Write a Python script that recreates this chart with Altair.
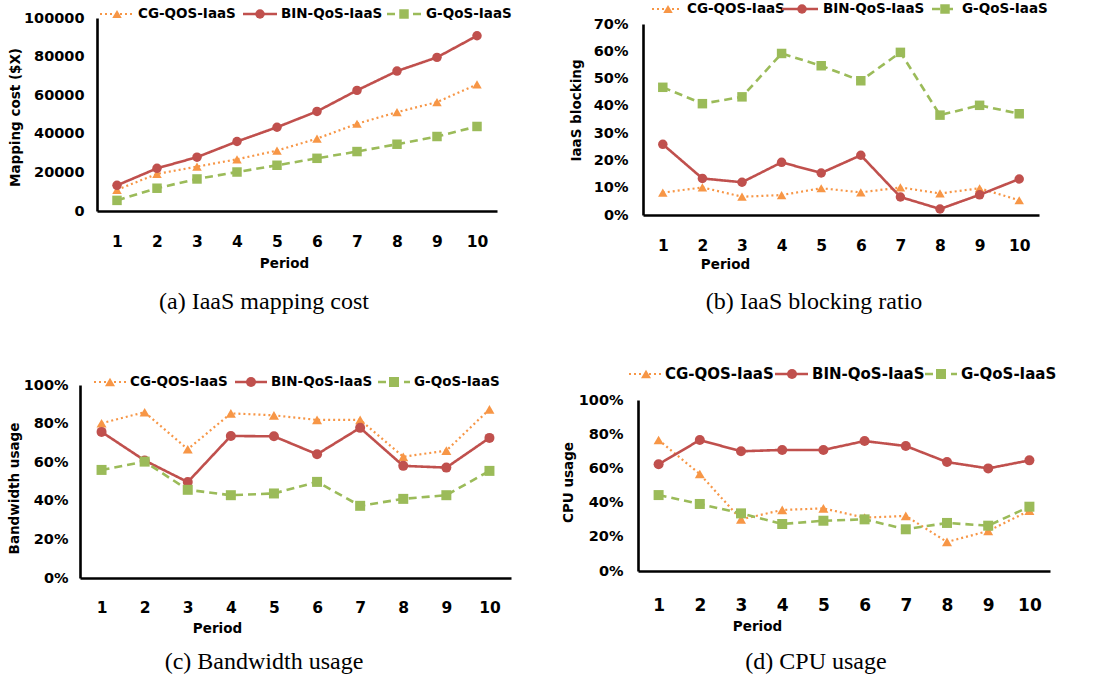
import altair as alt
import pandas as pd

periods = [1, 2, 3, 4, 5, 6, 7, 8, 9, 10]
series = ["CG-QOS-IaaS", "BIN-QoS-IaaS", "G-QoS-IaaS"]
colors = ["#F79646", "#C0504D", "#9BBB59"]
shapes = ["triangle-up", "circle", "square"]
dashes = [[2, 3], [1, 0], [8, 5]]
line_widths = [2.2, 2.6, 2.6]

# (a) IaaS mapping cost
cost_cg = [11000, 19200, 23000, 26800, 31300, 37500, 45200, 51200, 56400, 65600]
cost_bin = [13300, 22100, 27900, 36000, 43400, 51600, 62500, 72500, 79600, 90800]
cost_g = [5500, 11800, 16600, 20200, 23700, 27300, 30800, 34600, 38600, 43800]
cost_ticks = [0, 20000, 40000, 60000, 80000, 100000]

# (b) IaaS blocking ratio (%)
block_cg = [8.2, 10.1, 6.7, 7.3, 9.8, 8.3, 10.1, 7.9, 9.8, 5.4]
block_bin = [25.9, 13.4, 12.0, 19.3, 15.4, 21.9, 6.6, 2.2, 7.4, 13.2]
block_g = [46.8, 40.8, 43.3, 59.2, 54.7, 49.2, 59.6, 36.6, 40.2, 37.1]
block_ticks = [0, 10, 20, 30, 40, 50, 60, 70]

# (c) Bandwidth usage (%)
bw_cg = [80.2, 85.9, 66.7, 85.3, 84.3, 81.9, 81.9, 62.8, 66.0, 87.4]
bw_bin = [75.7, 60.9, 49.7, 73.6, 73.4, 64.1, 77.8, 58.1, 57.2, 72.6]
bw_g = [56.0, 60.3, 45.7, 42.9, 43.8, 49.8, 37.4, 41.0, 42.9, 55.5]

# (d) CPU usage (%)
cpu_cg = [76.6, 56.7, 30.2, 35.7, 36.6, 31.2, 32.2, 17.0, 23.4, 35.3]
cpu_bin = [62.4, 76.6, 70.0, 70.8, 70.8, 76.0, 73.1, 63.7, 60.0, 64.7]
cpu_g = [44.4, 39.2, 33.7, 27.5, 29.4, 30.2, 24.4, 28.1, 26.5, 37.6]
pct_ticks = [0, 20, 40, 60, 80, 100]

captions = ["(a) IaaS mapping cost", "(b) IaaS blocking ratio",
            "(c) Bandwidth usage", "(d) CPU usage"]
y_titles = ["Mapping cost ($X)", "IaaS blocking", "Bandwidth usage", "CPU usage"]

FONT = "DejaVu Sans"
SERIF = "Liberation Serif"
W, H = 548, 341


def panel(values, ticks, ymax, ytitle, caption, pct, L):
    rows = []
    for s, vals in zip(series, values):
        for p, v in zip(periods, vals):
            rows.append({"series": s, "period": p, "value": v})
    df = pd.DataFrame(rows)

    x_enc = alt.X(
        "period:Q",
        scale=alt.Scale(domain=[0.5, 10.5], range=[L["x0"], L["x1"]], nice=False, zero=False),
        axis=alt.Axis(
            values=periods, format="d", ticks=False, tickSize=0, grid=False,
            domainColor="black", domainWidth=2.6, labelFlush=False, labelOverlap=False,
            labelFont=FONT, labelFontWeight="bold", labelFontSize=L["xfs"], labelColor="black",
            labelBaseline="middle", labelPadding=L["xlp"],
            title="Period", titleFont=FONT, titleFontWeight="bold", titleFontSize=13.5,
            titleColor="black", titleX=L["txx"], titleY=L["txy"], titleAlign="center",
            titleBaseline="middle", offset=L["yb"] - H,
        ),
    )
    yaxis = dict(
        values=ticks, ticks=False, tickSize=0, grid=False, domainColor="black",
        domainWidth=2.6, labelFlush=False, labelOverlap=False, labelFont=FONT,
        labelFontWeight="bold", labelFontSize=L["yfs"], labelColor="black",
        labelPadding=L["ylp"], title=ytitle, titleFont=FONT, titleFontWeight="bold",
        titleFontSize=13.5, titleColor="black", titleAngle=270, titleX=L["tyx"],
        titleY=L["tyy"], titleAlign="center", titleBaseline="middle", offset=-L["ax"],
    )
    if pct:
        yaxis["labelExpr"] = "datum.value + '%'"
    else:
        yaxis["format"] = "d"
    y_enc = alt.Y(
        "value:Q",
        scale=alt.Scale(domain=[0, ymax], range=[L["yb"], L["yt"]], nice=False, zero=True),
        axis=alt.Axis(**yaxis),
    )

    layers = []
    for s, c, sh, d, lw in zip(series, colors, shapes, dashes, line_widths):
        base = alt.Chart(df).transform_filter(alt.datum.series == s)
        layers.append(base.mark_line(color=c, strokeDash=d, strokeWidth=lw).encode(x=x_enc, y=y_enc))
        layers.append(base.mark_point(shape=sh, filled=True, color=c, opacity=1,
                                      size=L["ms"]).encode(x=x_enc, y=y_enc))

    # legend
    for i, (s, c, sh, d, lw) in enumerate(zip(series, colors, shapes, dashes, line_widths)):
        ld = pd.DataFrame({"name": [s]})
        lx0, lx1, lm, lt = L["leg"][i]
        ly = L["ly"]
        layers.append(alt.Chart(ld).mark_rule(color=c, strokeDash=d, strokeWidth=lw).encode(
            x=alt.value(lx0), x2=alt.value(lx1), y=alt.value(ly)))
        layers.append(alt.Chart(ld).mark_point(shape=sh, filled=True, color=c, opacity=1,
                                               size=L["ms"]).encode(
            x=alt.value(lm), y=alt.value(ly)))
        layers.append(alt.Chart(ld).mark_text(align="left", baseline="middle", font=FONT,
                                              fontWeight="bold", fontSize=L["lfs"],
                                              color="black").encode(
            x=alt.value(lt), y=alt.value(ly), text="name:N"))

    cd = pd.DataFrame({"caption": [caption]})
    layers.append(alt.Chart(cd).mark_text(align="center", baseline="alphabetic", font=SERIF,
                                          fontSize=24, color="black").encode(
        x=alt.value(L["cx"]), y=alt.value(L["cy"]), text="caption:N"))

    return alt.layer(*layers).properties(width=W, height=H)


La = dict(x0=97, x1=497, ax=97, yb=211, yt=18, xfs=15.5, yfs=14.5, xlp=30, txx=284, txy=52,
          ylp=13, tyx=-82, tyy=117, ms=90, ly=14, lfs=13.5,
          leg=[(100, 135, 117, 138), (243, 277, 260, 281), (387, 422, 404, 426)],
          cx=264, cy=309)
Lb = dict(x0=95, x1=491, ax=95, yb=215, yt=24, xfs=15.5, yfs=14.5, xlp=30, txx=177, txy=49,
          ylp=15, tyx=-67, tyy=110, ms=90, ly=9, lfs=13.5,
          leg=[(104, 134, 120, 139), (234, 270, 254, 275), (384, 410, 397, 414)],
          cx=266, cy=309)
Lc = dict(x0=80, x1=511, ax=80, yb=237, yt=44, xfs=15.5, yfs=14.5, xlp=29, txx=217, txy=50,
          ylp=12, tyx=-66, tyy=147, ms=100, ly=41, lfs=13.5,
          leg=[(94, 127, 110, 130), (235, 267, 251, 271), (378, 410, 394, 414)],
          cx=264, cy=328)
Ld = dict(x0=90, x1=502, ax=90, yb=230, yt=59, xfs=17, yfs=14.5, xlp=34, txx=209, txy=55,
          ylp=15, tyx=-70, tyy=141, ms=100, ly=33, lfs=15,
          leg=[(81, 114, 98, 117), (227, 260, 244, 264), (377, 409, 393, 413)],
          cx=268, cy=328)

pa = panel([cost_cg, cost_bin, cost_g], cost_ticks, 100000, y_titles[0], captions[0], False, La)
pb = panel([block_cg, block_bin, block_g], block_ticks, 70, y_titles[1], captions[1], True, Lb)
pc = panel([bw_cg, bw_bin, bw_g], pct_ticks, 100, y_titles[2], captions[2], True, Lc)
pd_ = panel([cpu_cg, cpu_bin, cpu_g], pct_ticks, 100, y_titles[3], captions[3], True, Ld)

chart = (
    alt.concat(pa, pb, pc, pd_, columns=2, spacing=0, bounds="flush")
    .properties(padding=0, background="white")
    .configure_view(strokeWidth=0)
)
chart.save("out.html", embed_options={"renderer": "svg", "actions": False})
